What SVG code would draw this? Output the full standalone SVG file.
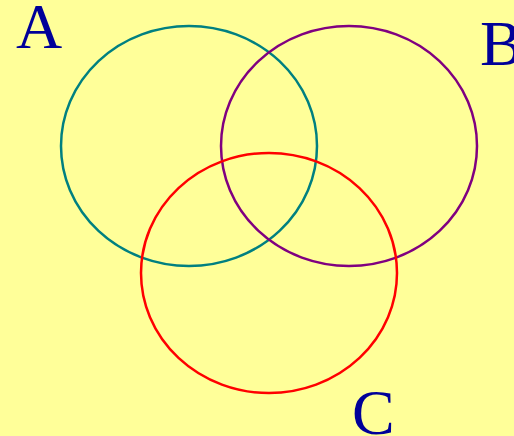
<svg xmlns="http://www.w3.org/2000/svg" width="514" height="436" viewBox="0 0 514 436">
<style>
.c{fill:none;stroke-width:2.5}
.t{font-family:"Liberation Serif","Times New Roman",serif;font-size:64px;fill:#000099}
</style>
<rect width="514" height="436" fill="#FFFF99"/>
<g id="A"><ellipse class="c" cx="189" cy="146" rx="128" ry="120" stroke="#008080"/><text class="t" x="16" y="48">A</text></g>
<g id="B"><ellipse class="c" cx="349" cy="146" rx="128" ry="120" stroke="#800080"/><text class="t" x="480" y="65">B</text></g>
<g id="C"><ellipse class="c" cx="269" cy="273" rx="128" ry="120" stroke="#FF0000"/><text class="t" x="352" y="434">C</text></g>
</svg>
